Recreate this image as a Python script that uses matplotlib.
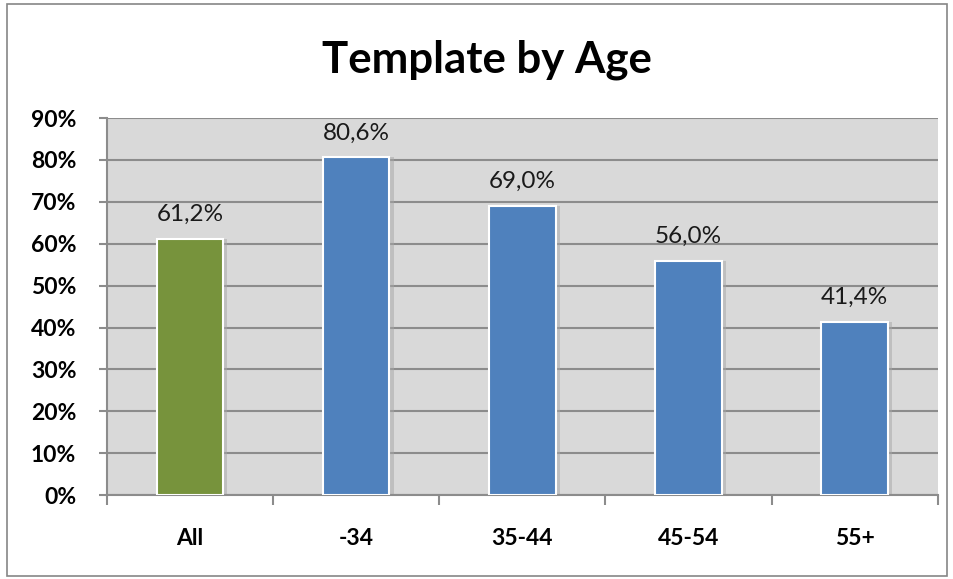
import matplotlib.pyplot as plt
import numpy as np
from matplotlib.patches import Rectangle

plt.rcParams['font.family'] = ['Lato', 'DejaVu Sans']

categories = ['All', '-34', '35-44', '45-54', '55+']
values = [61.2, 80.6, 69.0, 56.0, 41.4]
labels = ['61,2%', '80,6%', '69,0%', '56,0%', '41,4%']
colors = ['#77933C', '#4F81BD', '#4F81BD', '#4F81BD', '#4F81BD']

fig = plt.figure(figsize=(9.54, 5.79), dpi=100)
ax = fig.add_axes([0.112, 0.145, 0.871, 0.651])

# chart border
fig.patches.append(Rectangle((0.007, 0.005), 0.986, 0.988, transform=fig.transFigure,
                             fill=False, edgecolor='#868686', linewidth=1.2))

x = np.arange(len(categories))
ax.set_facecolor('#D9D9D9')
ax.set_axisbelow(True)
ax.yaxis.grid(True, color='#8C8C8C', linewidth=1.5)

# soft shadow behind the bars
ax.bar(x + 0.02, values, width=0.41, color='#A6A6A6', alpha=0.5, zorder=2)
bars = ax.bar(x, values, width=0.40, color=colors, edgecolor='white', linewidth=1.5, zorder=3)

for xi, v, lab in zip(x, values, labels):
    ax.text(xi, v + 3.3, lab, ha='center', va='bottom', fontsize=17.5, color='#1A1A1A')

ax.set_xlim(-0.5, len(categories) - 0.5)
ax.set_ylim(0, 90)
ax.set_yticks(range(0, 91, 10))
ax.set_yticklabels(['%d%%' % t for t in range(0, 91, 10)], fontsize=16.5, fontweight='bold')
ax.set_xticks(x)
ax.set_xticklabels(categories, fontsize=16.5, fontweight='bold')
ax.set_xticks(np.arange(-0.5, len(categories)), minor=True)
ax.tick_params(axis='x', which='major', length=0, pad=24)
ax.tick_params(axis='x', which='minor', length=7, width=1.5, color='#8C8C8C', direction='out')
ax.tick_params(axis='y', length=6, width=1.5, color='#8C8C8C', pad=16)

for s in ['top', 'right']:
    ax.spines[s].set_visible(False)
for s in ['left', 'bottom']:
    ax.spines[s].set_color('#8C8C8C')
    ax.spines[s].set_linewidth(1.5)

fig.text(0.51, 0.897, 'Template by Age', ha='center', va='center', fontsize=31.5, fontweight='bold')

fig.savefig('out.png', dpi=100)
